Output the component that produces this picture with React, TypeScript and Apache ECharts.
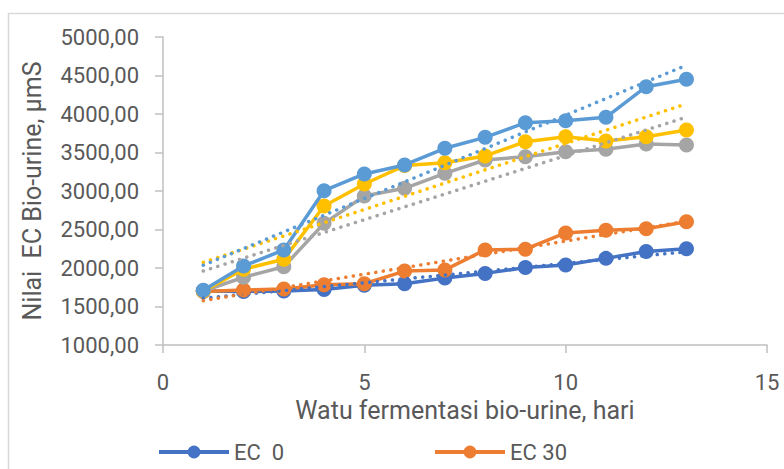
import React, { useEffect, useRef } from "react";
import * as echarts from "echarts";

const days = [1, 2, 3, 4, 5, 6, 7, 8, 9, 10, 11, 12, 13];
const seriesNames = ["EC  0", "EC 30", "EC 60", "EC 90", "EC 120"];
const seriesColors = ["#4472C4", "#ED7D31", "#A5A5A5", "#FFC000", "#5B9BD5"];
const ec0 = [1700, 1695, 1700, 1720, 1775, 1795, 1870, 1930, 2005, 2040, 2125, 2215, 2250];
const ec30 = [1695, 1713, 1726, 1783, 1795, 1960, 1975, 2235, 2245, 2455, 2490, 2510, 2600];
const ec60 = [1700, 1880, 2017, 2580, 2935, 3035, 3230, 3403, 3446, 3510, 3541, 3610, 3597];
const ec90 = [1700, 1985, 2113, 2805, 3091, 3330, 3367, 3455, 3640, 3705, 3650, 3705, 3792];
const ec120 = [1710, 2026, 2234, 3004, 3221, 3338, 3555, 3697, 3887, 3913, 3957, 4355, 4451];
const allValues = [ec0, ec30, ec60, ec90, ec120];
const xTicks = [0, 5, 10, 15];
const yMin = 1000;
const yMax = 5000;

function linearFit(xs: number[], ys: number[]) {
  const n = xs.length;
  const mx = xs.reduce((a, b) => a + b, 0) / n;
  const my = ys.reduce((a, b) => a + b, 0) / n;
  let sxy = 0;
  let sxx = 0;
  for (let i = 0; i < n; i++) {
    sxy += (xs[i] - mx) * (ys[i] - my);
    sxx += (xs[i] - mx) * (xs[i] - mx);
  }
  const b = sxy / sxx;
  const a = my - b * mx;
  return (x: number) => a + b * x;
}

const FONT = "Roboto, 'Noto Sans', sans-serif";
const TEXT = "#595959";

export default function App() {
  const ref = useRef<HTMLDivElement>(null);
  useEffect(() => {
    if (!ref.current) return;
    const chart = echarts.init(ref.current, undefined, { renderer: "svg" });
    const mainSeries = allValues.map((vals, i) => ({
      name: seriesNames[i],
      type: "line",
      data: days.map((d, j) => [d, vals[j]]),
      symbol: "circle",
      symbolSize: 15,
      lineStyle: { width: 3.5, color: seriesColors[i] },
      itemStyle: { color: seriesColors[i] },
      z: 2 + i,
    }));
    const trendSeries = allValues.map((vals, i) => {
      const f = linearFit(days, vals);
      const x0 = days[0];
      const x1 = days[days.length - 1];
      return {
        name: seriesNames[i] + " trend",
        type: "line",
        data: [
          [x0, f(x0)],
          [x1, f(x1)],
        ],
        symbol: "none",
        silent: true,
        lineStyle: {
          width: 3.5,
          color: seriesColors[i],
          type: [0.1, 7.5],
          cap: "round",
        },
        z: 10 + i,
      };
    });
    const legendCommon = {
      top: 441,
      padding: 0,
      itemWidth: 70,
      itemHeight: 16,
      itemGap: 7,
      lineStyle: { width: 4 },
      textStyle: { fontSize: 22, color: TEXT, fontFamily: FONT },
    };
    chart.setOption({
      animation: false,
      textStyle: { fontFamily: FONT },
      grid: { left: 163, right: 17, top: 37, bottom: 124 },
      legend: [
        { ...legendCommon, data: [seriesNames[0]], left: 157 },
        { ...legendCommon, data: [seriesNames[1]], left: 433 },
      ],
      xAxis: {
        type: "value",
        min: xTicks[0],
        max: xTicks[xTicks.length - 1],
        interval: 5,
        name: "Watu fermentasi bio-urine, hari",
        nameLocation: "middle",
        nameGap: 52,
        nameTextStyle: { fontSize: 25, color: TEXT, fontFamily: FONT },
        axisLine: { show: true, lineStyle: { color: "#BFBFBF", width: 1.5 } },
        axisTick: { show: true, length: 8, lineStyle: { color: "#BFBFBF", width: 1.5 } },
        axisLabel: { fontSize: 22, color: TEXT, margin: 26, fontFamily: FONT },
        splitLine: { show: false },
      },
      yAxis: {
        type: "value",
        min: yMin,
        max: yMax,
        interval: 500,
        name: "Nilai  EC Bio-urine, µmS",
        nameLocation: "middle",
        nameGap: 118,
        nameTextStyle: { fontSize: 25, color: TEXT, fontFamily: FONT },
        axisLine: { show: true, lineStyle: { color: "#BFBFBF", width: 1.5 } },
        axisTick: { show: true, length: 8, lineStyle: { color: "#BFBFBF", width: 1.5 } },
        axisLabel: {
          fontSize: 22,
          color: TEXT,
          margin: 24,
          fontFamily: FONT,
          formatter: (v: number) => v.toFixed(2).replace(".", ","),
        },
        splitLine: { show: false },
      },
      graphic: [
        {
          type: "rect",
          shape: { x: 8.5, y: 13.5, width: 800, height: 500 },
          style: { fill: "none", stroke: "#D9D9D9", lineWidth: 1.5 },
          silent: true,
        },
      ],
      series: [...mainSeries, ...trendSeries],
    });
    return () => chart.dispose();
  }, []);
  return (
    <div
      ref={ref}
      style={{ position: "absolute", left: 0, top: 0, width: 784, height: 469, background: "#fff" }}
    />
  );
}
